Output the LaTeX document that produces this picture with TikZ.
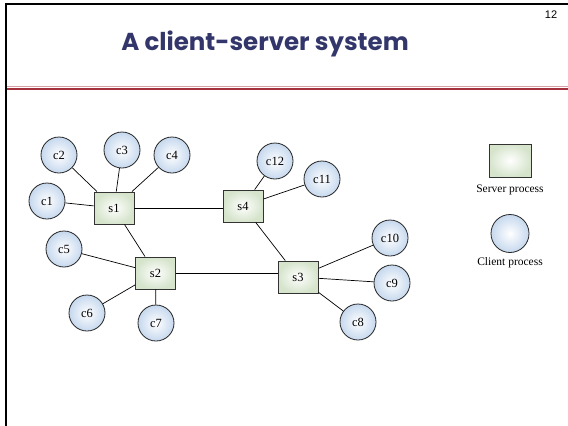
\documentclass[tikz,border=0pt]{standalone}
\usepackage{fontspec}
\setmainfont{Liberation Serif}
\newfontfamily\titlefont{Poppins}
\newfontfamily\numfont{Liberation Sans}
\definecolor{titleblue}{HTML}{33366A}
\definecolor{srvout}{HTML}{D6E4CC}
\definecolor{cliout}{HTML}{C6D8EE}
\definecolor{rulered}{HTML}{A3303A}
\definecolor{rulepink}{HTML}{D6A0A4}
\begin{document}
\begin{tikzpicture}[x=1pt,y=-1pt,
  srv/.style={draw=black!80,line width=0.9pt,rectangle,minimum width=40pt,minimum height=32pt,inner sep=0pt,
    inner color=white,outer color=srvout,font=\fontsize{12.5}{14}\selectfont},
  cli/.style={draw=black!85,line width=0.8pt,circle,minimum size=36pt,inner sep=0pt,
    inner color=white,outer color=cliout,font=\fontsize{12.5}{14}\selectfont},
  link/.style={draw=black,line width=0.7pt},
  lbl/.style={font=\fontsize{11.5}{13}\selectfont,inner sep=0pt}]
\useasboundingbox (0,0) rectangle (568,426);
\fill[white] (0,0) rectangle (568,426);
% frame
\draw[line width=2pt,black] (6,426) -- (6,4) -- (568,4);
\draw[line width=1.5pt,rulepink] (7,86.5) -- (568,86.5);
\draw[line width=2pt,rulered] (7,89) -- (568,89);
\node[font=\titlefont\bfseries\fontsize{24.5}{28}\selectfont,text=titleblue] (title) at (265,44) {A client-server system};
\node[font=\numfont\fontsize{11}{12}\selectfont] (pg) at (551,15) {12};
% servers
\node[srv] (s1) at (114,208) {s1};
\node[srv] (s2) at (155.5,273) {s2};
\node[srv] (s4) at (243,206) {s4};
\node[srv] (s3) at (298,277) {s3};
% clients
\node[cli] (c1) at (47,201) {c1};
\node[cli] (c2) at (59,155) {c2};
\node[cli] (c3) at (122,150) {c3};
\node[cli] (c4) at (172,155) {c4};
\node[cli] (c5) at (64,249) {c5};
\node[cli] (c6) at (87,313) {c6};
\node[cli] (c7) at (156,323) {c7};
\node[cli] (c8) at (358,322) {c8};
\node[cli] (c9) at (392,283) {c9};
\node[cli] (c10) at (390,238) {c10};
\node[cli] (c11) at (322,179) {c11};
\node[cli] (c12) at (275,161) {c12};
% links
\draw[link] (c1) -- (s1);
\draw[link] (c2) -- (s1);
\draw[link] (c3) -- (s1);
\draw[link] (c4) -- (s1);
\draw[link] (s1) -- (s1 -| s4.west);
\draw[link] (s1) -- (s2);
\draw[link] (c5) -- (s2);
\draw[link] (c6) -- (s2);
\draw[link] (c7) -- (s2);
\draw[link] (s2) -- (s2 -| s3.west);
\draw[link] (s4) -- (s3);
\draw[link] (c12) -- (s4);
\draw[link] (c11) -- (s4);
\draw[link] (c10) -- (s3);
\draw[link] (c9) -- (s3);
\draw[link] (c8) -- (s3);
% legend
\node[srv,minimum width=42pt,minimum height=33pt] (ls) at (510,160.5) {};
\node[lbl] (lst) at (510,190) {Server process};
\node[cli,minimum size=38pt] (lc) at (510,233.5) {};
\node[lbl] (lct) at (510,263) {Client process};
\end{tikzpicture}
\end{document}
